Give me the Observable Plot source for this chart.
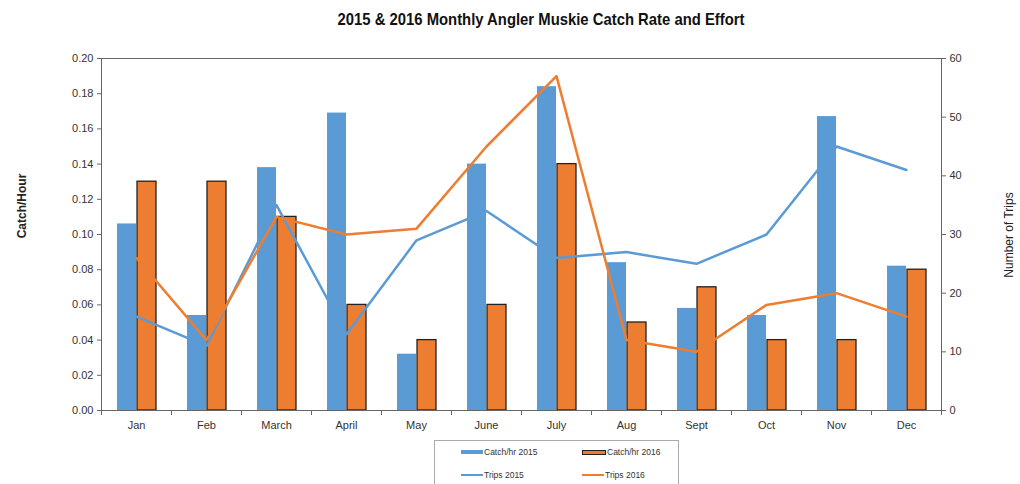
<!DOCTYPE html>
<html>
<head>
<meta charset="utf-8">
<script src="https://cdn.jsdelivr.net/npm/d3@7"></script>
<script src="https://cdn.jsdelivr.net/npm/@observablehq/plot@0.6"></script>
<style>
  body { margin: 0; background: #fff; }
  #wrap { position: relative; width: 1020px; height: 484px; overflow: hidden;
          font-family: "Liberation Sans", Arial, sans-serif; color: #333; }
  #chart { position: absolute; left: 0; top: 0; }
  .title { position: absolute; left: 541px; top: 10px; white-space: nowrap; transform-origin: 0 0;
           font-size: 17px; font-weight: bold; color: #111; line-height: 20px; }
  .ylab { position: absolute; white-space: nowrap; transform: translate(-50%, -50%) rotate(-90deg); font-size: 12px; color: #222; }
  .legend { position: absolute; left: 434px; top: 440px; width: 243px; height: 60px; border: 1px solid #aaa; background: #fff; }
  .item { position: absolute; font-size: 8.5px; color: #333; white-space: nowrap; display: flex; align-items: center; }
  .sw { display: inline-block; width: 22px; margin-right: 1px; }
</style>
</head>
<body>
<div id="wrap">
  <div id="chart"></div>
  <div class="title" id="title"></div>
  <div class="ylab" id="ylabL" style="left:22px; top:206px; font-weight:bold;"></div>
  <div class="ylab" id="ylabR" style="left:1009px; top:235px;"></div>
  <div class="legend" id="legend"></div>
</div>
<script>
const titleText = "2015 & 2016 Monthly Angler Muskie Catch Rate and Effort";
const leftLabel = "Catch/Hour";
const rightLabel = "Number of Trips";

const months = ["Jan", "Feb", "March", "April", "May", "June", "July", "Aug", "Sept", "Oct", "Nov", "Dec"];
const catch2015 = [0.106, 0.054, 0.138, 0.169, 0.032, 0.140, 0.184, 0.084, 0.058, 0.054, 0.167, 0.082];
const catch2016 = [0.13, 0.13, 0.11, 0.06, 0.04, 0.06, 0.14, 0.05, 0.07, 0.04, 0.04, 0.08];
const trips2015 = [16, 11, 35, 13, 29, 34, 26, 27, 25, 30, 45, 41];
const trips2016 = [26, 12, 33, 30, 31, 45, 57, 12, 10, 18, 20, 16];

const catchTicks = [0, 0.02, 0.04, 0.06, 0.08, 0.10, 0.12, 0.14, 0.16, 0.18, 0.20];
const tripTicks = [0, 10, 20, 30, 40, 50, 60];
const legendNames = ["Catch/hr 2015", "Catch/hr 2016", "Trips 2015", "Trips 2016"];

const CATCH_MAX = 0.2, TRIP_MAX = 60;
const toY = t => t * CATCH_MAX / TRIP_MAX;

const blue = "#5b9bd5", orange = "#ed7d31";

const rows = months.map((m, i) => ({month: m, c15: catch2015[i], c16: catch2016[i], t15: trips2015[i], t16: trips2016[i]}));

const chart = Plot.plot({
  width: 1020,
  height: 484,
  marginLeft: 101,
  marginRight: 79,
  marginTop: 58,
  marginBottom: 74,
  style: {fontFamily: '"Liberation Sans", Arial, sans-serif', fontSize: "11px", color: "#333", background: "transparent"},
  x: {type: "band", domain: months, padding: 0, label: null},
  y: {domain: [0, CATCH_MAX], label: null},
  marks: [
    Plot.barY(rows, {x: "month", y: "c15", fill: blue, insetLeft: 16, insetRight: 35}),
    Plot.barY(rows, {x: "month", y: "c16", fill: orange, stroke: "#222", strokeWidth: 1.3, insetLeft: 36, insetRight: 15}),
    Plot.line(rows, {x: "month", y: d => toY(d.t15), stroke: blue, strokeWidth: 2.5}),
    Plot.line(rows, {x: "month", y: d => toY(d.t16), stroke: orange, strokeWidth: 2.5}),
    Plot.frame({stroke: "#666"}),
    Plot.axisY({anchor: "left", ticks: catchTicks, tickFormat: d3.format(".2f"), tickSize: 4, tickPadding: 4, label: null, stroke: "#666"}),
    Plot.axisY({anchor: "right", ticks: tripTicks.map(toY), tickFormat: d => String(Math.round(d * TRIP_MAX / CATCH_MAX)), tickSize: 4, tickPadding: 4, label: null, stroke: "#666"}),
    Plot.axisX({tickSize: 0, tickPadding: 11, label: null}),
    Plot.ruleX(months, {x: d => d, y1: 0, y2: 0, dx: -35, insetBottom: -5, stroke: "#666"}),
    Plot.ruleX(months.slice(-1), {x: d => d, y1: 0, y2: 0, dx: 35, insetBottom: -5, stroke: "#666"})
  ]
});
document.getElementById("chart").appendChild(chart);

const title = document.getElementById("title");
title.textContent = titleText;
const tw = title.getBoundingClientRect().width;
const s = 407 / tw;
title.style.transform = `scaleX(${s}) translateX(-50%)`;

document.getElementById("ylabL").textContent = leftLabel;
document.getElementById("ylabR").textContent = rightLabel;

// legend
const legend = document.getElementById("legend");
const swatches = [
  `<span class="sw" style="height:4px;background:${blue}"></span>`,
  `<span class="sw" style="height:3px;background:${orange};border:1px solid #222"></span>`,
  `<span class="sw" style="height:2px;background:${blue}"></span>`,
  `<span class="sw" style="height:2px;background:${orange}"></span>`
];
const pos = [[26, 6], [147, 6], [26, 29], [147, 29]];
legendNames.forEach((n, i) => {
  const d = document.createElement("div");
  d.className = "item";
  d.style.left = pos[i][0] + "px";
  d.style.top = pos[i][1] + "px";
  d.innerHTML = swatches[i] + `<span>${n}</span>`;
  legend.appendChild(d);
});
</script>
</body>
</html>
